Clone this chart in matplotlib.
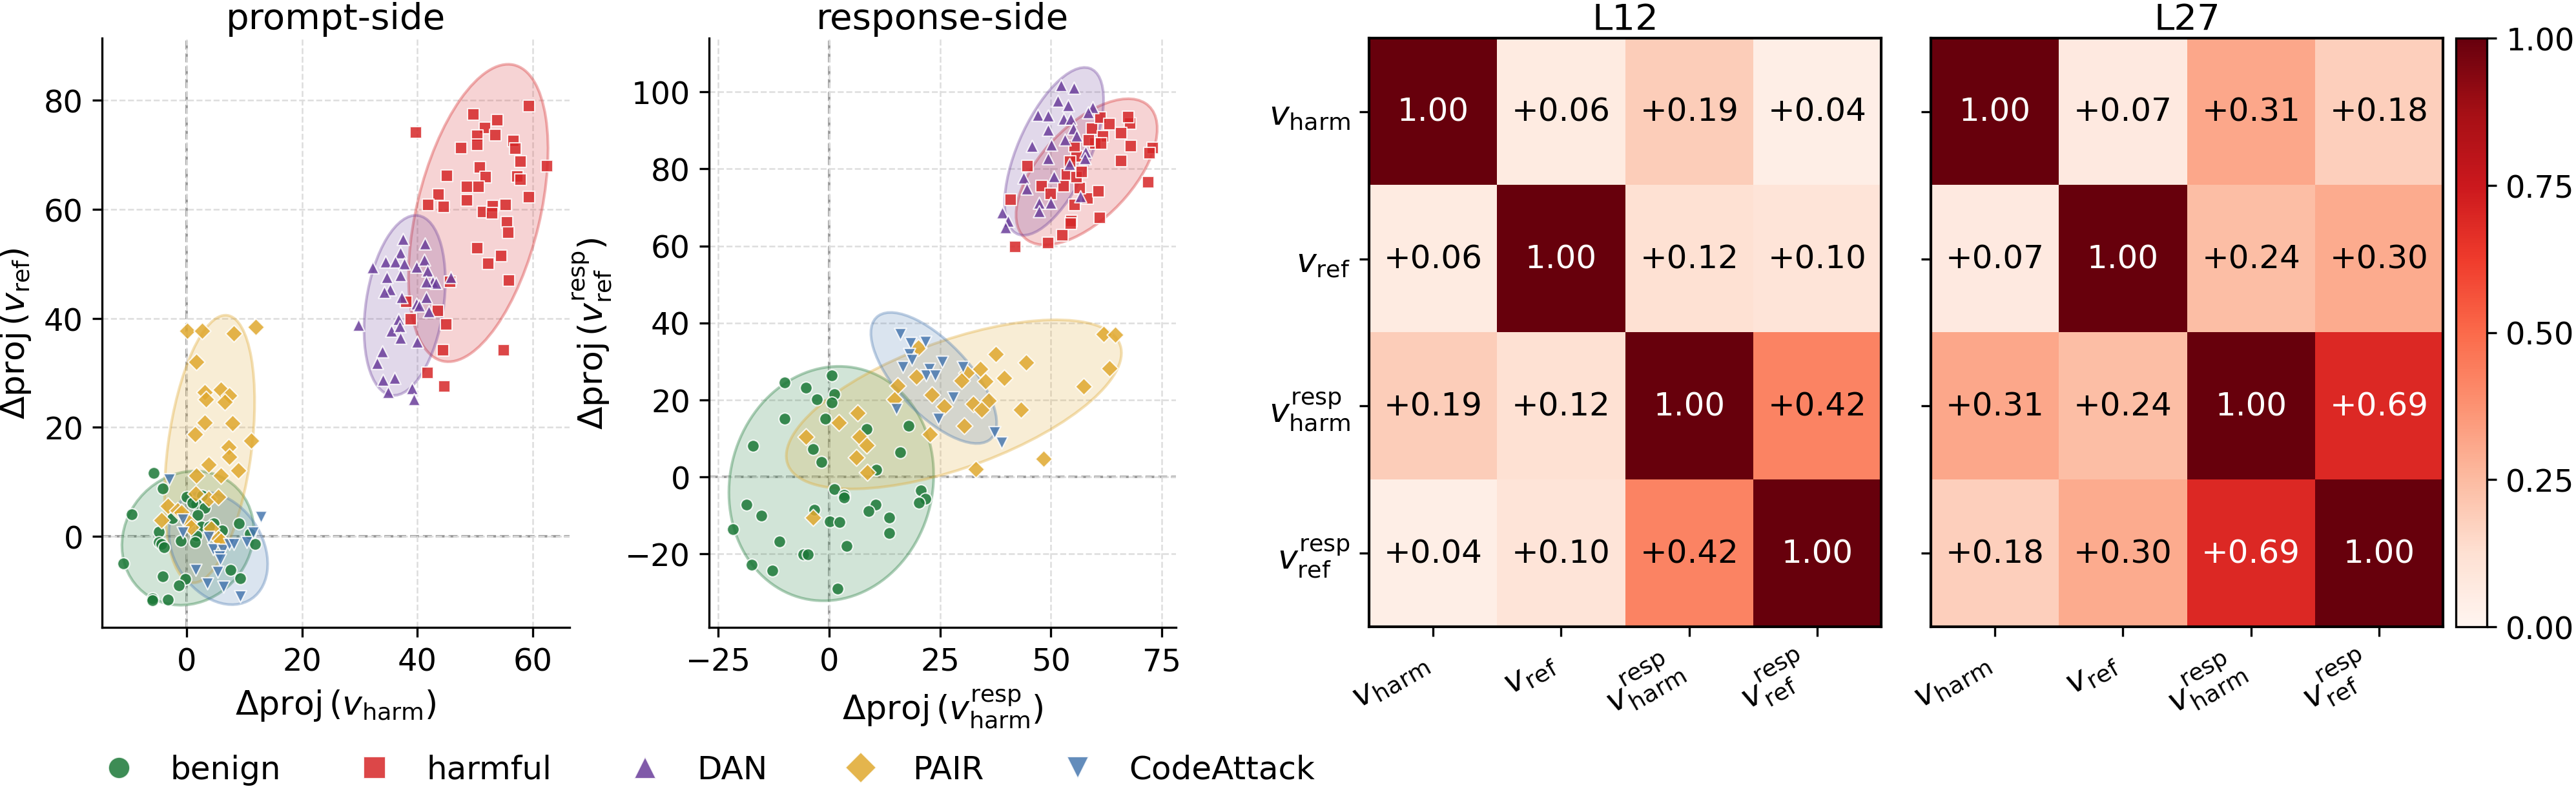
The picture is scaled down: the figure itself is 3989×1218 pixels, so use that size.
import numpy as np
import matplotlib
matplotlib.use("Agg")
import matplotlib.pyplot as plt
from matplotlib.patches import Ellipse
from matplotlib.lines import Line2D
from matplotlib.colors import to_rgba

# ---- scatter data: prompt-side (delta proj on v_harm, v_ref) ----
prompt_benign = np.array([
    [-5.7, 11.6], [-4.2, 8.8], [-9.5, 4.1], [0.0, 7.3], [2.7, 7.5], [1.6, 6.0],
    [3.1, 5.2], [1.0, 6.2], [1.9, 3.9], [-2.5, 3.3], [4.7, 2.4], [6.1, 1.1],
    [2.5, 1.8], [3.9, 1.8], [9.0, 2.4], [10.9, 0.5], [11.9, -1.4], [-4.8, 0.9],
    [-4.8, -1.0], [-4.4, -1.4], [-4.0, -2.0], [-1.0, -0.8], [1.6, 0.1], [1.4, -1.0],
    [-11.0, -5.0], [-4.2, -7.3], [-0.2, -7.8], [-1.4, -9.0], [7.6, -6.1], [9.3, -7.7],
    [-6.0, -11.4], [-6.0, -11.7], [-3.3, -11.6]])
prompt_harmful = np.array([
    [59.3, 79.0], [49.7, 77.4], [53.8, 76.4], [39.7, 74.1], [51.7, 74.9], [50.4, 73.5],
    [53.5, 73.6], [56.7, 72.6], [47.6, 71.3], [50.4, 71.8], [57.0, 71.1], [57.9, 68.8],
    [62.5, 67.9], [50.8, 67.7], [51.8, 65.9], [57.3, 66.0], [57.9, 65.4], [45.1, 66.2],
    [48.6, 64.1], [50.6, 64.1], [43.7, 62.7], [48.6, 61.7], [59.3, 62.2], [41.9, 60.8],
    [44.5, 60.5], [51.4, 59.5], [53.1, 60.6], [53.0, 59.3], [55.3, 60.8], [55.5, 57.6],
    [55.8, 55.7], [50.4, 52.9], [54.5, 51.5], [52.3, 50.0], [55.9, 47.0], [45.7, 46.7],
    [38.1, 43.1], [43.5, 41.4], [38.8, 39.8], [45.0, 38.9], [44.4, 34.2], [55.0, 34.2],
    [41.8, 30.0], [44.7, 27.5]])
prompt_dan = np.array([
    [32.2, 49.3], [37.5, 54.6], [41.3, 53.7], [37.1, 52.0], [34.5, 50.4], [36.1, 50.4],
    [37.7, 50.0], [39.8, 49.4], [41.2, 50.7], [41.7, 48.7], [34.7, 47.6], [37.1, 47.9],
    [42.6, 46.7], [43.2, 46.5], [45.8, 47.6], [41.5, 46.7], [35.3, 45.3], [34.3, 44.8],
    [37.3, 43.9], [41.5, 43.9], [39.9, 42.7], [40.3, 42.3], [42.0, 41.3], [36.7, 39.8],
    [35.5, 37.7], [36.9, 38.6], [37.0, 36.4], [40.0, 35.7], [33.9, 33.9], [33.0, 31.8],
    [34.0, 28.7], [36.0, 29.1], [34.9, 26.5], [39.1, 27.2], [39.4, 25.1], [29.8, 38.8]])
prompt_pair = np.array([
    [0.1, 37.7], [2.7, 37.7], [8.1, 37.2], [12.0, 38.4], [1.7, 32.0], [3.1, 26.4],
    [5.9, 26.9], [7.4, 25.8], [3.3, 25.1], [6.6, 24.7], [3.1, 20.9], [7.9, 20.8],
    [1.4, 18.7], [11.2, 17.6], [7.2, 16.4], [7.4, 14.6], [3.8, 13.2], [8.9, 12.1],
    [1.6, 11.2], [5.9, 11.2], [1.5, 7.8], [3.8, 6.9], [5.5, 7.2], [-3.3, 5.6],
    [-1.6, 4.8], [-0.9, 4.4], [-4.4, 3.0], [0.3, 2.6], [0.8, 1.7], [4.2, 1.4],
    [5.5, -0.3], [5.9, -0.8]])
prompt_code = np.array([
    [-3.0, 10.4], [-0.7, 3.1], [-0.7, 0.7], [3.8, -0.1], [4.6, -2.3], [6.2, -2.5],
    [5.7, -3.7], [5.8, -4.2], [7.4, -1.4], [8.2, -1.4], [10.4, -1.0], [11.5, 0.7],
    [12.8, 3.6], [1.5, -6.2], [5.4, -6.5], [3.6, -8.6], [6.4, -9.2], [9.3, -11.0]])

# ---- scatter data: response-side (delta proj on v_harm^resp, v_ref^resp) ----
resp_benign = np.array([
    [0.6, 26.3], [-10.0, 24.4], [-5.3, 23.1], [-2.8, 20.1], [1.1, 21.4], [0.5, 19.3],
    [-10.0, 15.0], [-0.9, 15.1], [8.4, 12.3], [17.9, 13.3], [-17.2, 8.0], [-3.7, 7.2],
    [16.0, 6.4], [-1.8, 3.8], [10.6, 1.8], [1.2, -3.2], [3.4, -4.8], [3.4, -5.5],
    [20.6, -3.5], [21.7, -5.8], [20.3, -6.8], [-18.6, -7.2], [10.5, -7.2], [8.8, -9.0],
    [-3.3, -8.7], [-15.3, -10.1], [13.6, -10.6], [0.2, -11.7], [2.3, -11.8], [-21.7, -13.7],
    [13.6, -14.6], [-11.2, -16.8], [3.9, -18.1], [-5.9, -20.2], [-4.8, -20.2], [-17.5, -22.9],
    [-12.9, -24.4], [1.9, -29.2]])
resp_harmful = np.array([
    [44.7, 80.7], [40.9, 72.1], [42.0, 59.8], [49.4, 60.8], [52.5, 62.7], [54.6, 66.4],
    [54.5, 65.8], [61.0, 67.3], [55.4, 70.7], [58.2, 72.3], [60.7, 74.2], [56.5, 75.1],
    [47.9, 75.5], [49.9, 73.5], [52.8, 75.6], [53.6, 78.5], [55.7, 77.9], [57.0, 79.2],
    [55.8, 83.2], [54.3, 82.0], [59.3, 90.5], [61.1, 93.3], [63.2, 91.6], [67.8, 91.9],
    [67.4, 93.6], [65.8, 89.4], [68.0, 86.0], [65.8, 82.1], [61.7, 88.5], [60.0, 86.6],
    [58.5, 87.4], [61.3, 86.6], [72.9, 85.5], [72.2, 84.1], [72.0, 76.6], [55.3, 86.0]])
resp_dan = np.array([
    [52.2, 101.8], [55.2, 101.1], [51.6, 97.8], [53.8, 96.5], [59.4, 96.1], [47.0, 94.0],
    [49.4, 93.9], [52.9, 93.0], [54.4, 93.0], [58.4, 94.7], [49.3, 90.1], [55.0, 90.5],
    [53.2, 87.7], [55.8, 88.7], [45.7, 85.9], [50.1, 86.3], [57.8, 84.5], [57.6, 82.7],
    [49.3, 82.8], [54.2, 81.3], [43.8, 77.8], [50.7, 78.1], [44.5, 74.9], [56.6, 72.9],
    [47.3, 71.2], [49.9, 71.1], [47.3, 69.0], [39.0, 68.6], [40.3, 66.5], [39.7, 64.8]])
resp_pair = np.array([
    [61.9, 37.1], [64.5, 36.9], [37.6, 31.8], [44.4, 29.7], [63.2, 28.2], [20.1, 33.6],
    [34.0, 28.0], [31.0, 27.0], [39.5, 25.6], [35.2, 24.8], [29.9, 25.0], [19.6, 26.0],
    [57.4, 23.5], [15.4, 23.6], [23.2, 21.2], [14.7, 20.1], [35.9, 19.7], [32.4, 18.9],
    [25.9, 18.3], [34.3, 17.5], [43.2, 17.5], [30.4, 13.3], [6.4, 16.6], [2.1, 14.1],
    [22.7, 11.1], [-5.2, 10.4], [6.9, 10.3], [8.5, 8.2], [6.1, 5.0], [48.4, 4.6],
    [8.6, 1.1], [33.0, 1.9], [-3.7, -10.6]])
resp_code = np.array([
    [16.0, 37.1], [18.4, 34.8], [21.7, 35.1], [18.1, 31.8], [18.6, 30.4], [25.5, 29.8],
    [16.6, 28.5], [22.5, 28.0], [21.8, 26.4], [23.9, 26.4], [30.2, 28.5], [28.0, 20.6],
    [15.2, 17.6], [24.6, 15.1], [37.2, 11.6], [38.9, 8.8]])

group_names = ["benign", "harmful", "DAN", "PAIR", "CodeAttack"]
group_colors = ["#1b7837", "#d62728", "#6a3d9a", "#e0a82e", "#4878b0"]
group_markers = ["o", "s", "^", "D", "v"]

# ---- cosine similarity between directions ----
vec_labels = [r"$v_{\mathrm{harm}}$", r"$v_{\mathrm{ref}}$",
              r"$v^{\mathrm{resp}}_{\mathrm{harm}}$", r"$v^{\mathrm{resp}}_{\mathrm{ref}}$"]
cos_L12 = np.array([[1.00, 0.06, 0.19, 0.04],
                    [0.06, 1.00, 0.12, 0.10],
                    [0.19, 0.12, 1.00, 0.42],
                    [0.04, 0.10, 0.42, 1.00]])
cos_L27 = np.array([[1.00, 0.07, 0.31, 0.18],
                    [0.07, 1.00, 0.24, 0.30],
                    [0.31, 0.24, 1.00, 0.69],
                    [0.18, 0.30, 0.69, 1.00]])


def conf_ellipse(ax, pts, color, n_std=2.0):
    mean = pts.mean(axis=0)
    cov = np.cov(pts.T)
    vals, vecs = np.linalg.eigh(cov)
    order = vals.argsort()[::-1]
    vals, vecs = vals[order], vecs[:, order]
    angle = np.degrees(np.arctan2(vecs[1, 0], vecs[0, 0]))
    w, h = 2 * n_std * np.sqrt(vals)
    ell = Ellipse(mean, w, h, angle=angle, facecolor=to_rgba(color, 0.2),
                  edgecolor=to_rgba(color, 0.35), linewidth=1.0, zorder=1)
    ax.add_patch(ell)


def scatter_panel(ax, groups, title, xlabel, ylabel, xlim, ylim, xticks, yticks):
    for pts, c in zip(groups, group_colors):
        conf_ellipse(ax, pts, c)
    for pts, c, m in zip(groups, group_colors, group_markers):
        ax.scatter(pts[:, 0], pts[:, 1], s=20, c=c, marker=m, alpha=0.85,
                   edgecolors="white", linewidths=0.5, zorder=3)
    ax.axhline(0, color="#999999", ls="--", lw=0.9, zorder=0)
    ax.axvline(0, color="#999999", ls="--", lw=0.9, zorder=0)
    ax.grid(True, ls="--", lw=0.6, color="#dddddd", zorder=0)
    ax.set_axisbelow(True)
    ax.set_xlim(xlim)
    ax.set_ylim(ylim)
    ax.set_xticks(xticks)
    ax.set_yticks(yticks)
    ax.spines["top"].set_visible(False)
    ax.spines["right"].set_visible(False)
    ax.set_title(title, fontsize=13.5, pad=3.5)
    ax.set_xlabel(xlabel, fontsize=12.5)
    ax.set_ylabel(ylabel, fontsize=12.5)
    ax.tick_params(labelsize=11.5)


def heat_panel(ax, mat, title, show_ylabels):
    im = ax.imshow(mat, cmap="Reds", vmin=0, vmax=1, aspect="auto")
    n = len(vec_labels)
    for i in range(n):
        for j in range(n):
            v = mat[i, j]
            txt = "1.00" if i == j else f"{v:+.2f}"
            ax.text(j, i, txt, ha="center", va="center", fontsize=12,
                    color="white" if v > 0.6 else "black")
    ax.set_xticks(range(n))
    ax.set_yticks(range(n))
    ax.set_xticklabels(vec_labels, rotation=30, ha="right", fontsize=12.5)
    if show_ylabels:
        ax.set_yticklabels(vec_labels, fontsize=12.5)
    else:
        ax.set_yticklabels([])
    for sp in ax.spines.values():
        sp.set_linewidth(1.0)
    ax.set_title(title, fontsize=13.5, pad=3.5)
    return im


fig = plt.figure(figsize=(13.297, 4.063), dpi=300)
W, H = 3989, 1219


def px_axes(x0, y0, x1, y1):
    return fig.add_axes([x0 / W, 1 - y1 / H, (x1 - x0) / W, (y1 - y0) / H])


ax_p = px_axes(158, 60, 882, 972)
ax_r = px_axes(1098, 60, 1821, 972)
ax_h1 = px_axes(2120, 60, 2913, 971)
ax_h2 = px_axes(2990, 60, 3783, 971)
ax_cb = px_axes(3803, 60, 3851, 971)

scatter_panel(ax_p, [prompt_benign, prompt_harmful, prompt_dan, prompt_pair, prompt_code],
              "prompt-side", r"$\Delta\mathrm{proj}\,(v_{\mathrm{harm}})$",
              r"$\Delta\mathrm{proj}\,(v_{\mathrm{ref}})$",
              (-14.7, 66.4), (-16.7, 91.4), [0, 20, 40, 60], [0, 20, 40, 60, 80])
scatter_panel(ax_r, [resp_benign, resp_harmful, resp_dan, resp_pair, resp_code],
              "response-side", r"$\Delta\mathrm{proj}\,(v^{\mathrm{resp}}_{\mathrm{harm}})$",
              r"$\Delta\mathrm{proj}\,(v^{\mathrm{resp}}_{\mathrm{ref}})$",
              (-27.1, 78.2), (-39.2, 114), [-25, 0, 25, 50, 75], [-20, 0, 20, 40, 60, 80, 100])

im = heat_panel(ax_h1, cos_L12, "L12", True)
heat_panel(ax_h2, cos_L27, "L27", False)
cb = fig.colorbar(im, cax=ax_cb, ticks=[0, 0.25, 0.5, 0.75, 1.0])
cb.ax.tick_params(labelsize=11.5)
cb.ax.yaxis.set_major_formatter(matplotlib.ticker.FormatStrFormatter("%.2f"))

handles = [Line2D([], [], ls="none", marker=m, color=c, alpha=0.85, markersize=8,
                  markeredgecolor="white", markeredgewidth=0.5, label=n)
           for n, c, m in zip(group_names, group_colors, group_markers)]
fig.legend(handles=handles, loc="center", ncol=5, frameon=False, fontsize=12,
           bbox_to_anchor=(1085 / W, 1 - 1192 / H), columnspacing=1.9, handletextpad=0.6)

fig.savefig("out.png", dpi=300)
